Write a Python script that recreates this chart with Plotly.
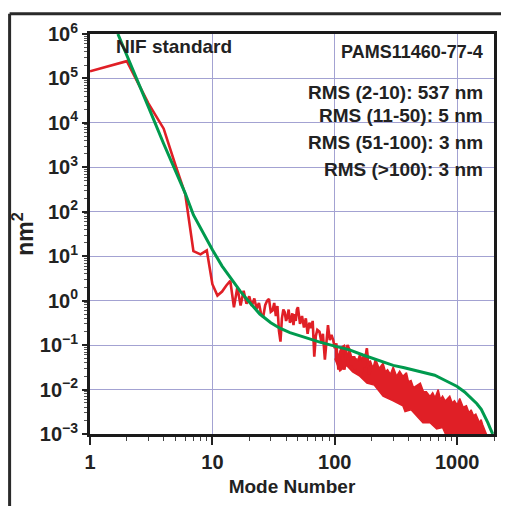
import plotly.graph_objects as go

# ---------------- data ----------------
red_modes = [1, 2, 3, 4, 5, 6, 7, 8, 9, 10, 11, 12, 13, 14, 15, 16, 17, 18, 19, 20,
             21, 22, 23, 24, 25, 26, 27, 28, 29, 30, 31, 32, 33, 34, 35, 36, 37, 38, 39, 40,
             41, 42, 43, 44, 45, 46, 47, 48, 49, 50, 52, 54, 56, 58, 60, 62, 64, 66, 68, 70,
             72, 75, 78, 80, 83, 86, 88, 91, 94, 97, 100, 103, 107, 110, 114, 117, 120, 124, 127, 132,
             136, 140, 145, 150, 155, 160, 165, 170, 175, 183, 190, 200]
red_vals = [1.45e5, 2.45e5, 2.75e4, 7.4e3, 1.1e3, 250, 13, 11, 13.5, 2.35, 1.3, 1.6, 2.2, 2.8, 0.71, 2.0, 0.78, 1.66, 0.85, 1.26,
            0.76, 1.12, 0.66, 0.89, 0.5, 0.43, 0.79, 1.0, 1.1, 0.56, 0.6, 0.89, 0.45, 0.76, 0.21, 0.12, 0.4, 0.63, 0.55, 0.35,
            0.43, 0.63, 0.32, 0.36, 0.52, 0.28, 0.5, 0.35, 0.63, 0.71, 0.3, 0.45, 0.25, 0.4, 0.18, 0.32, 0.24, 0.35, 0.055, 0.16,
            0.22, 0.2, 0.11, 0.18, 0.047, 0.16, 0.28, 0.13, 0.17, 0.13, 0.085, 0.11, 0.028, 0.063, 0.089, 0.04, 0.028, 0.071, 0.1, 0.078,
            0.035, 0.056, 0.028, 0.05, 0.025, 0.045, 0.02, 0.056, 0.032, 0.085, 0.022, 0.035]

# dense high-mode part of the measured spectrum: upper and lower envelope
band_up_modes = [100, 107, 113, 120, 126, 132, 140, 145, 152, 160, 170, 183, 190, 195, 205, 215, 230, 248, 260, 270,
                 285, 300, 320, 339, 360, 385, 400, 420, 440, 465, 500, 530, 560, 600, 631, 660, 700, 730, 760, 800,
                 870, 910, 950, 1000, 1050, 1120, 1190, 1250, 1300, 1360, 1420, 1520, 1570, 1620, 1700, 1760]
band_up_vals = [0.11, 0.05, 0.09, 0.1, 0.06, 0.078, 0.045, 0.056, 0.04, 0.063, 0.04, 0.085, 0.035, 0.045, 0.03, 0.05, 0.03, 0.039, 0.025, 0.028,
                0.022, 0.032, 0.02, 0.026, 0.02, 0.024, 0.015, 0.016, 0.011, 0.012, 0.014, 0.009, 0.0089, 0.007, 0.0085, 0.0065, 0.01, 0.006, 0.0071, 0.0055,
                0.0071, 0.005, 0.0056, 0.0045, 0.0063, 0.004, 0.0043, 0.003, 0.0035, 0.0026, 0.0028, 0.0018, 0.0021, 0.0016, 0.0011, 0.00089]
band_lo_modes = [100, 110, 125, 140, 160, 183, 210, 248, 300, 360, 375, 420, 470, 525, 600, 680, 760, 817, 1000, 1760]
band_lo_vals = [0.05, 0.026, 0.035, 0.025, 0.02, 0.014, 0.0126, 0.0071, 0.0056, 0.0043, 0.0032, 0.0035, 0.0025, 0.0018, 0.0018,
                0.0013, 0.0014, 0.00089, 0.00063, 0.00063]

# NIF standard curve
nif_modes = [1.69, 2, 3, 4, 5, 6, 7, 8, 9, 10, 12, 14, 17, 19.6, 24.4, 30, 35.6, 43, 51.8, 62, 75.5, 100, 132, 170, 206, 251, 300,
             370, 449, 540, 655, 800, 1000, 1150, 1304, 1450, 1574, 1680, 1780, 1870, 1950]
nif_vals = [1e6, 3.4e5, 2.3e4, 3.4e3, 850, 260, 85, 42, 23, 14, 6.0, 3.3, 1.6, 1.0, 0.5, 0.32, 0.24, 0.19, 0.16, 0.135, 0.117, 0.095, 0.078, 0.06, 0.05, 0.04, 0.035,
            0.031, 0.027, 0.024, 0.021, 0.016, 0.0117, 0.0088, 0.0065, 0.0048, 0.0036, 0.0026, 0.0018, 0.0013, 0.001]

x_tick_vals = [1, 10, 100, 1000]
x_tick_text = ["1", "10", "100", "1000"]
y_tick_vals = [1e-3, 1e-2, 1e-1, 1e0, 1e1, 1e2, 1e3, 1e4, 1e5, 1e6]
y_tick_text = ["10<sup>\u22123</sup>", "10<sup>\u22122</sup>", "10<sup>\u22121</sup>", "10<sup>0</sup>",
               "10<sup>1</sup>", "10<sup>2</sup>", "10<sup>3</sup>", "10<sup>4</sup>", "10<sup>5</sup>", "10<sup>6</sup>"]

title_sample = "PAMS11460-77-4"
rms_lines = ["RMS (2-10): 537 nm", "RMS (11-50): 5 nm", "RMS (51-100): 3 nm", "RMS (>100): 3 nm"]

# ---------------- figure ----------------
RED = "#e01f26"
GREEN = "#009a4e"
GRID = "#a3a2d2"
FONT = "Liberation Sans, Arial, sans-serif"

fig = go.Figure()

fig.add_trace(go.Scatter(
    x=band_up_modes + band_lo_modes[::-1],
    y=band_up_vals + band_lo_vals[::-1],
    mode="lines", fill="toself", fillcolor=RED,
    line=dict(color=RED, width=1.5), hoverinfo="skip", showlegend=False))

fig.add_trace(go.Scatter(x=red_modes, y=red_vals, mode="lines",
                         line=dict(color=RED, width=2.6), showlegend=False))

fig.add_trace(go.Scatter(x=nif_modes, y=nif_vals, mode="lines",
                         line=dict(color=GREEN, width=3), showlegend=False))

minor_x = [k * 10 ** e for e in range(0, 4) for k in range(2, 10) if k * 10 ** e <= 2000]
minor_y = [k * 10.0 ** e for e in range(-3, 6) for k in range(2, 10)]

fig.update_xaxes(
    type="log", range=[0, 3.301],
    tickvals=x_tick_vals, ticktext=x_tick_text,
    ticks="outside", ticklen=8, tickwidth=1.5, tickcolor="#222",
    showline=True, linewidth=3, linecolor="#1a1a1a", mirror=True,
    showgrid=True, gridcolor=GRID, gridwidth=1,
    minor=dict(tickvals=minor_x, ticks="outside", ticklen=4, tickwidth=1, tickcolor="#444", showgrid=False),
    tickfont=dict(family=FONT, size=20, color="#222", weight="bold"),
    title=dict(text="Mode Number", font=dict(family=FONT, size=19, color="#222", weight="bold"), standoff=8),
    zeroline=False,
)
fig.update_yaxes(
    type="log", range=[-3, 6],
    tickvals=y_tick_vals, ticktext=y_tick_text,
    ticks="outside", ticklen=5, tickwidth=1.5, tickcolor="#222",
    showline=True, linewidth=3, linecolor="#1a1a1a", mirror=True,
    showgrid=True, gridcolor=GRID, gridwidth=1,
    minor=dict(tickvals=minor_y, ticks="outside", ticklen=3, tickwidth=1, tickcolor="#555", showgrid=False),
    tickfont=dict(family=FONT, size=20, color="#222", weight="bold"),
    title=dict(text="nm<sup>2</sup>", font=dict(family=FONT, size=23, color="#222", weight="bold"), standoff=1),
    zeroline=False,
)

ann_font = dict(family=FONT, size=19, color="#222", weight="bold")
annotations = [
    dict(text="NIF standard", x=0.06, y=0.969, xanchor="left", yanchor="middle"),
    dict(text=title_sample, x=0.977, y=0.956, xanchor="right", yanchor="middle",
         font=dict(family=FONT, size=18, color="#222", weight="bold")),
]
for txt, yy in zip(rms_lines, [0.853, 0.795, 0.729, 0.662]):
    annotations.append(dict(text=txt, x=0.977, y=yy, xanchor="right", yanchor="middle"))
for a in annotations:
    a.setdefault("font", ann_font)
    a.update(xref="paper", yref="paper", showarrow=False)

# the page adds an 8px body margin, so the figure is sized and shifted to compensate
fig.update_layout(
    width=501, height=498,
    margin=dict(l=82, r=14, t=22, b=71),
    paper_bgcolor="white", plot_bgcolor="white",
    annotations=annotations,
    shapes=[
        dict(type="line", xref="paper", yref="paper", x0=-0.199, x1=-0.199, y0=-0.3, y1=1.0506,
             line=dict(color="#2a2a2a", width=3)),
        dict(type="line", xref="paper", yref="paper", x0=-0.199, x1=1.1, y0=1.0506, y1=1.0506,
             line=dict(color="#2a2a2a", width=3)),
    ],
)

fig.write_html("out.html")
